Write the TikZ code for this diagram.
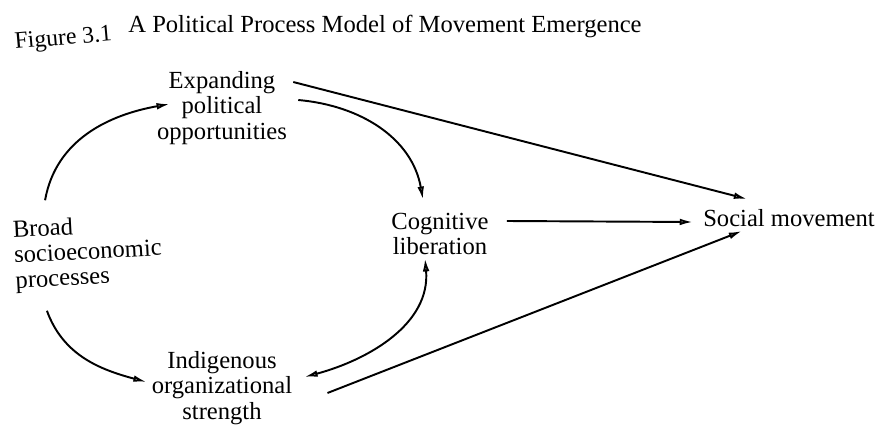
\documentclass[tikz,border=0pt]{standalone}
\usepackage{fontspec}
\setmainfont{Liberation Serif}
\usetikzlibrary{arrows.meta}
\begin{document}
\begin{tikzpicture}[x=0.02cm, y=0.02cm, >={Latex[open,length=7.5pt,width=3.8pt]},
  lbl/.style={inner sep=0pt, align=center, font=\fontsize{14}{14.4}\selectfont},
  link/.style={->, line width=1.1pt}]
\useasboundingbox (0,0) rectangle (886,-446);
\node[lbl, anchor=base west, rotate=5, font=\fontsize{13.5}{14}\selectfont] (fig) at (15,-49) {Figure 3.1};
\node[lbl, anchor=base west] (title) at (128,-33) {A Political Process Model of Movement Emergence};
\node[lbl, anchor=west, align=left, rotate=3] (broad) at (14,-257) {Broad\\socioeconomic\\processes};
\node[lbl] (exp) at (222,-108) {Expanding\\political\\opportunities};
\node[lbl] (ind) at (222,-388) {Indigenous\\organizational\\strength};
\node[lbl] (cog) at (440,-234) {Cognitive\\liberation};
\node[lbl] (soc) at (789,-218) {Social movement};
\draw[link] ([shift={(33,20)}]broad.north west) to[out=80, in=190] ([shift={(13,4)}]exp.west);
\draw[link] ([shift={(31,-17)}]broad.south west) to[out=-70, in=165] ([shift={(-5,6)}]ind.west);
\draw[link] ([shift={(11,8)}]exp.east) to[out=-5, in=100] ([shift={(-17,13)}]cog.north);
\draw[link] ([shift={(6,26)}]exp.east) -- ([shift={(-42,10)}]soc.north);
\draw[link] ([shift={(18,13)}]cog.east) -- ([shift={(-10,-4)}]soc.west);
\draw[link] ([shift={(35,-5)}]ind.east) -- ([shift={(-47,-4)}]soc.south);
\draw[link, <->] ([shift={(-15,-3)}]cog.south) to[out=-85, in=15] ([shift={(12,11)}]ind.east);
\end{tikzpicture}
\end{document}
